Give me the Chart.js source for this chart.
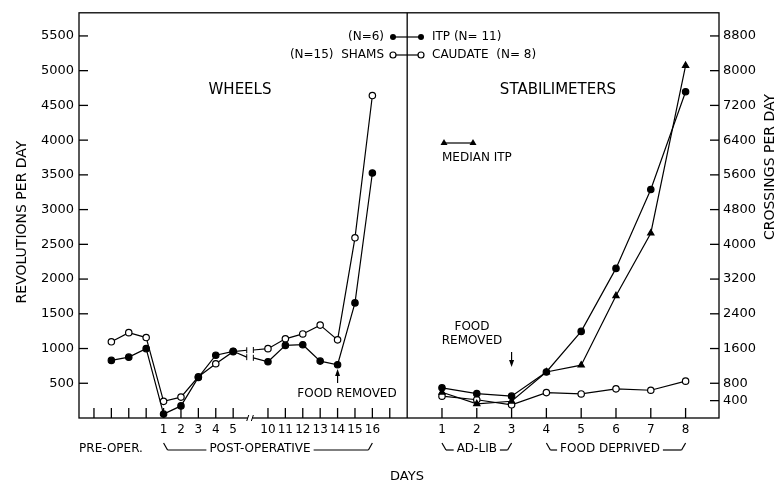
<!DOCTYPE html>
<html lang="en">
<head>
<meta charset="UTF-8" />
<title>Wheels and Stabilimeters</title>
<script src="https://cdn.jsdelivr.net/npm/chart.js"></script>
<style>
  body { margin: 0; background: #fff; }
  #wrap { width: 780px; height: 488px; }
</style>
</head>
<body>
<div id="wrap"><canvas id="chart" width="780" height="488"></canvas></div>
<script>
  // axis ticks
  const leftTicks = [500, 1000, 1500, 2000, 2500, 3000, 3500, 4000, 4500, 5000, 5500];
  const rightTicks = [400, 800, 1600, 2400, 3200, 4000, 4800, 5600, 6400, 7200, 8000, 8800];

  // wheels panel (left axis) - positions 1..3 pre-op, 4.. post-op days
  const wheelPos = [1, 2, 3, 4, 5, 6, 7, 8, 10, 11, 12, 13, 14, 15, 16];
  const itpWheel = [829, 876, 998, 56, 174, 584, 904, 960, 810, 1045, 1055, 819, 767, 1657, 3527];
  const shamWheel = [1097, 1229, 1158, 240, 301, 593, 781, 955, 998, 1140, 1210, 1337, 1125, 2594, 4642];
  const stubPos = [8.78, 9.16];
  const itpStub = [876, 866];
  const shamStub = [975, 979];

  // stabilimeters panel (right axis)
  const stabPos = [20, 22, 24, 26, 28, 30, 32, 34];
  const stabDays = ['1', '2', '3', '4', '5', '6', '7', '8'];
  const itpStab = [695, 561, 503, 1060, 1995, 3446, 5263, 7516];
  const medianStab = [592, 327, 386, 1060, 1216, 2814, 4257, 8117];
  const caudateStab = [503, 421, 304, 585, 554, 671, 639, 849];

  const postOpPos = [4, 5, 6, 7, 8, 10, 11, 12, 13, 14, 15, 16];
  const postOpDays = ['1', '2', '3', '4', '5', '10', '11', '12', '13', '14', '15', '16'];
  const xTickMarks = [0, 1, 2, 3, 4, 5, 6, 7, 8, 10, 11, 12, 13, 14, 15, 16, 17, 20, 22, 24, 26, 28, 30, 32, 34];

  const FONT = '"DejaVu Sans", sans-serif';
  const tickLabel = {};
  postOpPos.forEach((p, i) => tickLabel[p] = postOpDays[i]);
  stabPos.forEach((p, i) => tickLabel[p] = stabDays[i]);

  function withBreak(vals, stub) {
    const pre = [], post = [];
    wheelPos.forEach((x, i) => (x < 9 ? pre : post).push({ x, y: vals[i] }));
    return [...pre, { x: stubPos[0], y: stub[0], stub: true }, { x: 9, y: null },
            { x: stubPos[1], y: stub[1], stub: true }, ...post];
  }
  const pts = (pos, vals) => pos.map((x, i) => ({ x, y: vals[i] }));
  const radius = ctx => (ctx.raw && ctx.raw.stub) ? 0 : 3.2;

  const base = { borderColor: '#000', borderWidth: 1.2, pointBorderColor: '#000', pointBorderWidth: 1.2,
                 pointRadius: radius, spanGaps: false, tension: 0 };

  const decor = {
    id: 'decor',
    afterDraw(chart) {
      const { ctx, chartArea: a, scales } = chart;
      const x = scales.x, yl = scales.y, yr = scales.y2;
      const line = (x1, y1, x2, y2) => { ctx.beginPath(); ctx.moveTo(x1, y1); ctx.lineTo(x2, y2); ctx.stroke(); };
      const text = (s, px, py, size, align) => {
        ctx.font = size + 'px ' + FONT; ctx.textAlign = align || 'center'; ctx.textBaseline = 'middle';
        ctx.fillText(s, px, py);
      };
      ctx.save();
      ctx.strokeStyle = '#000'; ctx.fillStyle = '#000'; ctx.lineWidth = 1.3;
      ctx.strokeRect(a.left, a.top, a.right - a.left, a.bottom - a.top);
      const xd = x.getPixelForValue(18);
      line(xd, a.top, xd, a.bottom);
      xTickMarks.forEach(k => { const px = x.getPixelForValue(k); line(px, a.bottom, px, a.bottom - 10); });
      leftTicks.forEach(v => { const py = yl.getPixelForValue(v); line(a.left, py, a.left + 9, py); });
      rightTicks.forEach(v => { const py = yr.getPixelForValue(v); line(a.right - 9, py, a.right, py); });

      // axis break
      const b1 = x.getPixelForValue(stubPos[0]) + 1, b2 = x.getPixelForValue(stubPos[1]) - 1;
      ctx.fillStyle = '#fff'; ctx.fillRect(b1, a.bottom - 3, b2 - b1, 6); ctx.fillStyle = '#000';
      ctx.lineWidth = 1;
      line(b1 - 1, a.bottom + 3, b1 + 1, a.bottom - 3);
      line(b2 - 1, a.bottom + 3, b2 + 1, a.bottom - 3);
      // stub ends
      [[stubPos[0], itpStub[0]], [stubPos[1], itpStub[1]], [stubPos[0], shamStub[0]], [stubPos[1], shamStub[1]]]
        .forEach(([k, v]) => { const px = x.getPixelForValue(k), py = yl.getPixelForValue(v); line(px, py - 3, px, py + 3); });

      // legend
      ctx.lineWidth = 1.2;
      line(393, 37, 421, 37); line(393, 55, 421, 55);
      [393, 421].forEach(px => {
        ctx.beginPath(); ctx.arc(px, 37, 3, 0, Math.PI * 2); ctx.fill();
        ctx.beginPath(); ctx.arc(px, 55, 3, 0, Math.PI * 2); ctx.fillStyle = '#fff'; ctx.fill(); ctx.stroke(); ctx.fillStyle = '#000';
      });
      text('(N=6)', 384, 37, 12, 'right');
      text('(N=15)  SHAMS', 384, 55, 12, 'right');
      text('ITP (N= 11)', 432, 37, 12, 'left');
      text('CAUDATE  (N= 8)', 432, 55, 12, 'left');

      text('WHEELS', 240, 90, 15);
      text('STABILIMETERS', 558, 90, 15);

      // median ITP key
      line(444, 143, 473, 143);
      [444, 473].forEach(px => { ctx.beginPath(); ctx.moveTo(px - 3.5, 145); ctx.lineTo(px + 3.5, 145); ctx.lineTo(px, 139); ctx.closePath(); ctx.fill(); });
      text('MEDIAN ITP', 442, 158, 12, 'left');

      // food removed notes
      text('FOOD REMOVED', 347, 394, 12);
      const ax = x.getPixelForValue(14);
      line(ax, 383, ax, 372);
      ctx.beginPath(); ctx.moveTo(ax - 2.5, 376); ctx.lineTo(ax + 2.5, 376); ctx.lineTo(ax, 369); ctx.closePath(); ctx.fill();
      text('FOOD', 472, 327, 12);
      text('REMOVED', 472, 341, 12);
      const bx = x.getPixelForValue(24);
      line(bx, 352, bx, 364);
      ctx.beginPath(); ctx.moveTo(bx - 2.5, 360); ctx.lineTo(bx + 2.5, 360); ctx.lineTo(bx, 367); ctx.closePath(); ctx.fill();

      // x category rows
      const bracket = (k1, k2, label, cx) => {
        const x1 = x.getPixelForValue(k1), x2 = x.getPixelForValue(k2), by = 450;
        ctx.font = '12px ' + FONT;
        const w = ctx.measureText(label).width;
        const c = cx || (x1 + x2) / 2;
        line(x1, by - 7, x1 + 4, by); line(x1 + 4, by, c - w / 2 - 3, by);
        line(c + w / 2 + 3, by, x2 - 4, by); line(x2 - 4, by, x2, by - 7);
        text(label, c, by - 1, 12);
      };
      text('PRE-OPER.', 111, 449, 12);
      bracket(4, 16, 'POST-OPERATIVE', 260);
      bracket(20, 24, 'AD-LIB');
      bracket(26, 34, 'FOOD DEPRIVED', 610);
      text('DAYS', 407, 477, 13);

      // axis titles
      ctx.save(); ctx.translate(22, 222); ctx.rotate(-Math.PI / 2); text('REVOLUTIONS PER DAY', 0, 0, 14); ctx.restore();
      ctx.save(); ctx.translate(770, 167); ctx.rotate(-Math.PI / 2); text('CROSSINGS PER DAY', 0, 0, 14); ctx.restore();
      ctx.restore();
    }
  };

  new Chart(document.getElementById('chart'), {
    type: 'line',
    data: {
      datasets: [
        { ...base, label: 'ITP wheels', yAxisID: 'y', data: withBreak(itpWheel, itpStub), pointBackgroundColor: '#000' },
        { ...base, label: 'Shams', yAxisID: 'y', data: withBreak(shamWheel, shamStub), pointBackgroundColor: '#fff' },
        { ...base, label: 'ITP stabilimeters', yAxisID: 'y2', data: pts(stabPos, itpStab), pointBackgroundColor: '#000' },
        { ...base, label: 'Median ITP', yAxisID: 'y2', data: pts(stabPos, medianStab), pointBackgroundColor: '#000',
          pointStyle: 'triangle', pointRadius: 3.6 },
        { ...base, label: 'Caudate', yAxisID: 'y2', data: pts(stabPos, caudateStab), pointBackgroundColor: '#fff' }
      ]
    },
    options: {
      responsive: false,
      animation: false,
      devicePixelRatio: 1,
      layout: { padding: { top: 5, left: 0, right: 0, bottom: 0 } },
      plugins: { legend: { display: false }, tooltip: { enabled: false } },
      scales: {
        x: {
          type: 'linear', min: -0.86, max: 35.92,
          grid: { display: false, drawTicks: false }, border: { display: false },
          afterBuildTicks: s => { s.ticks = Object.keys(tickLabel).map(v => ({ value: +v })); },
          afterFit: s => { s.height = 70; },
          ticks: { padding: 5, color: '#000', font: { family: FONT, size: 12 }, autoSkip: false, maxRotation: 0,
                   callback: v => tickLabel[v] || '' }
        },
        y: {
          position: 'left', min: 0, max: 5833,
          grid: { display: false, drawTicks: false }, border: { display: false },
          afterBuildTicks: s => { s.ticks = leftTicks.map(v => ({ value: v })); },
          afterFit: s => { s.width = 79; },
          ticks: { padding: 5, color: '#000', font: { family: FONT, size: 13 }, callback: v => String(v) }
        },
        y2: {
          position: 'right', min: 0, max: 9333,
          grid: { display: false, drawTicks: false }, border: { display: false },
          afterBuildTicks: s => { s.ticks = rightTicks.map(v => ({ value: v })); },
          afterFit: s => { s.width = 61; },
          ticks: { padding: 4, color: '#000', font: { family: FONT, size: 13 }, callback: v => String(v) }
        }
      }
    },
    plugins: [decor]
  });
</script>
</body>
</html>
